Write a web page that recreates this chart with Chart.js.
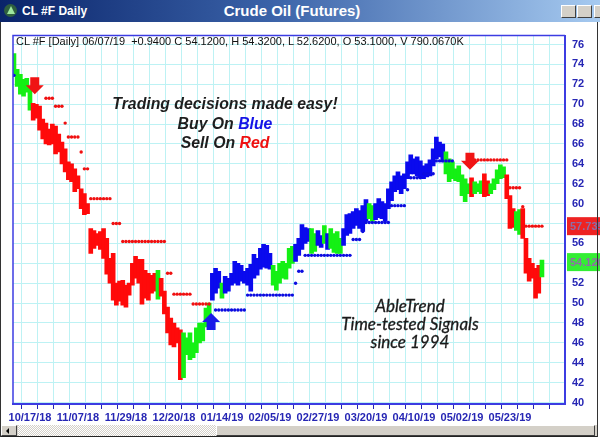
<!DOCTYPE html>
<html>
<head>
<meta charset="utf-8">
<title>CL #F Daily</title>
<script src="https://cdn.jsdelivr.net/npm/chart.js@4.4.1/dist/chart.umd.min.js"></script>
<style>
  body { margin: 0; width: 600px; height: 437px; overflow: hidden; background: #fff; position: relative; font-family: "Liberation Sans", Arial, sans-serif; }
  #titlebar { position: absolute; left: 0; top: 0; width: 600px; height: 22px; background: linear-gradient(to right, #0a246a 0%, #3a62a8 45%, #a6caf0 100%); color: #fff; }
  #titlebar .icon { position: absolute; left: 4px; top: 4px; width: 13px; height: 13px; border-radius: 50%; background: #2f5f3f; }
  #titlebar .icon:after { content: ""; position: absolute; left: 3px; top: 2px; border-left: 4px solid transparent; border-right: 4px solid transparent; border-bottom: 8px solid #9fe89f; }
  #titlebar .name { position: absolute; left: 22px; top: 4px; font-size: 12px; font-weight: bold; }
  #titlebar .main { position: absolute; left: 0; width: 584px; top: 2px; text-align: center; font-size: 15px; font-weight: bold; }
  .btn { position: absolute; top: 5px; width: 15px; height: 13px; background: #d4d0c8; border: 1px solid; border-color: #fff #404040 #404040 #fff; box-sizing: border-box; }
  #wrap { position: absolute; left: 0; top: 22px; width: 600px; height: 403px; }
  .hdr { position: absolute; left: 16px; top: 35px; font-size: 11px; color: #111; white-space: pre; }
  .note1 { position: absolute; left: 0; width: 450px; top: 94px; text-align: center; font: italic bold 15.8px "Liberation Sans", Arial, sans-serif; color: #1e1e1e; line-height: 19.5px; }
  .note2 { position: absolute; left: 300px; width: 220px; top: 297px; text-align: center; font: italic 17px Lato, "Open Sans", sans-serif; color: #1a1a1a; line-height: 18px; -webkit-text-stroke: 0.3px #1a1a1a; }
  #scroll { position: absolute; left: 0; top: 425px; width: 597px; height: 11px; background: #d4d0c8; border-bottom: 1px solid #222; }
  #scroll .arr { position: absolute; left: 1px; top: 0; width: 16px; height: 11px; background: #d4d0c8; border: 1px solid; border-color: #fff #404040 #404040 #fff; box-sizing: border-box; }
  #scroll .arr:after { content: ""; position: absolute; left: 4px; top: 2px; border-top: 3px solid transparent; border-bottom: 3px solid transparent; border-right: 3px solid #000; }
  #scroll .track { position: absolute; left: 18px; top: 0; width: 198px; height: 11px; background-image: repeating-conic-gradient(#fff 0 25%, #d4d0c8 0 50%); background-size: 2px 2px; }
  #scroll .thumb { position: absolute; left: 216px; top: 0; width: 379px; height: 11px; background: #d4d0c8; border: 1px solid; border-color: #fff #404040 #404040 #fff; box-sizing: border-box; }
  .edge { position: absolute; top: 22px; width: 1px; height: 415px; background: #333; }
</style>
</head>
<body>
<div id="titlebar">
  <div class="icon"></div>
  <div class="name">CL #F Daily</div>
  <div class="main">Crude Oil (Futures)</div>
  <div class="btn" style="left:561px"></div>
  <div class="btn" style="left:577px"></div>
  <div class="btn" style="left:594px"></div>
</div>
<div id="wrap"><canvas id="chart"></canvas></div>
<div class="hdr">CL #F [Daily] 06/07/19  +0.9400 C 54.1200, H 54.3200, L 52.6200, O 53.1000, V 790.0670K</div>
<div class="note1">Trading decisions made easy!<br>Buy On <span style="color:#1414e6">Blue</span><br>Sell On <span style="color:#ee1111">Red</span></div>
<div class="note2">AbleTrend<br>Time-tested Signals<br>since 1994</div>
<div id="scroll"><div class="arr"></div><div class="track"></div><div class="thumb"></div></div>
<div class="edge" style="left:0"></div>
<div class="edge" style="left:597px"></div>
<script>
  // Daily bars, one per trading day from 10/10/18 to 06/07/19
  const barHigh = [
    75.1, 73.5, 73.0, 72.5, 72.6, 71.8, 70.1, 70.0, 69.8, 68.5,
    68.1, 67.5, 68.0, 67.8, 67.0, 66.2, 65.5, 64.2, 64.0, 63.5,
    62.8, 61.5, 61.0, 60.0, 57.5, 57.3, 57.0, 57.2, 57.5, 56.5,
    54.5, 55.0, 52.0, 52.2, 52.3, 51.8, 52.0, 54.0, 54.7, 54.4,
    54.4, 53.3, 53.0, 52.8, 53.0, 53.3, 52.5, 51.2, 49.6, 48.5,
    48.0, 47.5, 47.3, 47.0, 46.5, 47.0, 46.0, 47.5, 48.0, 48.0,
    49.5, 50.0, 53.0, 53.5, 53.2, 52.0, 52.7, 52.5, 53.0, 54.2,
    54.0, 53.8, 53.2, 53.5, 53.9, 54.9, 54.5, 55.5, 55.9, 55.8,
    55.0, 53.8, 53.2, 54.0, 54.2, 54.0, 55.5, 55.7, 55.9, 56.5,
    57.9, 57.6, 57.5, 57.5, 57.0, 57.3, 56.8, 57.8, 57.0, 57.5,
    57.0, 57.2, 56.5, 57.5, 58.9, 59.0, 59.2, 59.5, 59.3, 59.8,
    60.4, 60.0, 59.8, 60.0, 60.5, 60.2, 60.0, 61.5, 62.2, 62.8,
    63.2, 62.8, 63.0, 64.2, 64.9, 64.5, 64.7, 64.3, 63.8, 64.0,
    64.4, 65.5, 66.7, 66.2, 66.0, 65.2, 64.5, 64.2, 63.5, 63.8,
    62.9, 62.5, 62.0, 62.6, 62.2, 62.0, 62.3, 63.0, 62.3, 62.0,
    62.5, 63.4, 63.9, 63.7, 62.9, 60.8, 59.5, 59.2, 59.4, 59.5,
    56.5, 54.5, 54.0, 53.5, 53.8, 54.32
  ];
  const barLow = [
    72.8, 71.8, 71.0, 70.8, 71.2, 69.4, 68.4, 68.6, 67.4, 66.5,
    66.0, 65.9, 66.0, 65.0, 65.2, 64.0, 63.2, 62.4, 62.2, 61.2,
    61.5, 59.5, 58.9, 59.0, 55.0, 55.5, 55.8, 55.4, 54.5, 52.9,
    52.0, 50.3, 49.8, 50.2, 49.8, 49.6, 50.8, 51.8, 52.5, 52.0,
    49.9, 50.5, 50.3, 51.0, 51.2, 50.4, 50.7, 48.9, 47.0, 45.8,
    45.6, 46.0, 42.3, 42.5, 44.8, 44.3, 44.5, 45.0, 46.0, 46.2,
    47.6, 48.0, 50.3, 51.0, 51.5, 50.5, 51.0, 51.2, 51.8, 52.0,
    51.8, 52.2, 52.0, 51.8, 51.2, 52.5, 52.8, 53.4, 53.6, 53.5,
    53.4, 51.8, 51.3, 52.0, 52.5, 52.4, 53.5, 54.0, 54.2, 54.8,
    55.4, 56.0, 56.2, 55.0, 55.2, 55.8, 55.6, 56.0, 55.4, 55.5,
    55.1, 55.0, 55.0, 55.8, 56.8, 57.0, 57.5, 57.8, 57.5, 57.2,
    58.2, 58.5, 58.2, 58.4, 58.6, 58.5, 58.2, 59.5, 60.3, 61.2,
    61.4, 61.0, 61.5, 62.5, 63.0, 63.0, 62.8, 62.6, 62.5, 62.7,
    62.8, 63.8, 64.5, 64.7, 64.2, 63.0, 62.2, 62.5, 62.3, 62.2,
    60.8, 60.2, 61.0, 60.7, 61.0, 61.2, 61.0, 60.7, 60.8, 61.0,
    61.4, 62.0, 62.5, 62.6, 60.5, 57.5, 57.6, 57.3, 56.9, 56.5,
    53.0, 52.2, 52.5, 50.5, 51.0, 52.62
  ];
  // b = buy (blue), r = sell (red), g = neutral (green)
  const barSignal = [
    'g','g','g','g','g','g','r','r','r','r',
    'r','r','r','r','r','r','r','r','r','r',
    'r','r','r','r','r','r','r','r','r','r',
    'r','r','r','r','r','r','r','r','r','r',
    'r','r','r','r','r','g','r','r','r','r',
    'r','r','r','g','g','g','g','g','g','g',
    'g','g','b','b','b','g','b','b','b','b',
    'b','b','b','b','b','b','b','b','b','b',
    'b','g','g','g','g','g','g','g','b','b',
    'b','b','b','g','g','b','b','g','b','g',
    'g','g','g','b','b','b','b','b','b','b',
    'b','g','g','b','b','b','b','b','b','b',
    'b','b','b','b','b','b','b','b','b','b',
    'b','b','b','b','b','g','g','g','g','g',
    'g','g','g','r','g','g','g','r','r','g',
    'g','g','g','g','r','r','r','g','g','r',
    'r','r','r','r','r','g'
  ];

  // stop levels: [first bar, last bar, price]
  const sellStops = [
    [10, 12, 70.6], [13, 15, 69.8], [16, 16, 68.1], [17, 20, 66.7], [21, 21, 65.2],
    [22, 23, 63.5], [24, 30, 60.5], [31, 33, 58.0], [34, 47, 56.2], [48, 49, 53.0],
    [50, 55, 50.9], [56, 61, 49.9], [144, 154, 64.4], [155, 158, 61.6], [159, 159, 59.7],
    [160, 165, 57.735]
  ];
  const buyStops = [
    [0, 0, 72.9], [63, 72, 49.3], [73, 87, 50.8], [88, 88, 52.0], [89, 90, 53.2],
    [91, 105, 54.8], [106, 108, 56.4], [109, 109, 57.2], [110, 117, 58.1], [118, 122, 59.8],
    [123, 123, 61.4], [124, 127, 62.6], [128, 131, 63.0], [132, 137, 64.3]
  ];

  // signal arrows: bar position, tip price, direction
  const arrowBar = [6.5, 61.6, 142.5];
  const arrowTip = [71.0, 49.0, 63.4];
  const arrowDir = ['down', 'up', 'down'];

  // right-hand value markers
  const markerValues = [57.735, 54.12];

  const xTickBars = [0, 5, 10, 15, 20, 25, 30, 35, 40, 45, 50, 55, 60, 65, 70, 75, 80, 85,
    90, 95, 100, 105, 110, 115, 120, 125, 130, 135, 140, 145, 150, 155, 160, 165, 170];
  const xLabelBars = [5, 20, 35, 50, 65, 80, 95, 110, 125, 140, 155];
  const xLabels = ['10/17/18', '11/07/18', '11/29/18', '12/20/18', '01/14/19', '02/05/19',
    '02/27/19', '03/20/19', '04/10/19', '05/02/19', '05/23/19'];
  const yTicks = [40, 42, 44, 46, 48, 50, 52, 54, 56, 58, 60, 62, 64, 66, 68, 70, 72, 74, 76];

  const signalColors = { r: '#ff0a0a', g: '#14f014', b: '#0a0aee' };
  const axisBlue = '#2626b4';
  const frameBlue = '#3c3ce2';

  function stopPoints(list) {
    const pts = [];
    list.forEach(s => {
      for (let i = s[0]; i <= s[1]; i++) pts.push({ x: i, y: s[2] });
    });
    return pts;
  }

  function drawArrow(ctx, cx, tipY, dir, color) {
    const s = dir === 'down' ? -1 : 1;
    ctx.save();
    ctx.fillStyle = color;
    ctx.beginPath();
    ctx.moveTo(cx, tipY);
    ctx.lineTo(cx + 9, tipY + s * 9);
    ctx.lineTo(cx + 4.5, tipY + s * 9);
    ctx.lineTo(cx + 4.5, tipY + s * 17);
    ctx.lineTo(cx - 4.5, tipY + s * 17);
    ctx.lineTo(cx - 4.5, tipY + s * 9);
    ctx.lineTo(cx - 9, tipY + s * 9);
    ctx.closePath();
    ctx.fill();
    ctx.restore();
  }

  const overlayPlugin = {
    id: 'overlay',
    afterDatasetsDraw(chart) {
      const { ctx, scales: { x, y } } = chart;
      arrowBar.forEach((b, k) => {
        const color = arrowDir[k] === 'up' ? '#1a1ae8' : '#f01414';
        drawArrow(ctx, x.getPixelForValue(b), y.getPixelForValue(arrowTip[k]), arrowDir[k], color);
      });
    },
    afterDraw(chart) {
      const { ctx, chartArea: a, scales: { y } } = chart;
      ctx.save();
      // plot frame, top and left
      ctx.strokeStyle = frameBlue;
      ctx.lineWidth = 1.5;
      ctx.beginPath();
      ctx.moveTo(a.left, a.bottom);
      ctx.lineTo(a.left, a.top);
      ctx.lineTo(a.right, a.top);
      ctx.stroke();
      // value markers on the price axis
      const boxColors = ['#ee2222', '#33ee33'];
      ctx.font = 'bold 11px "Liberation Sans", Arial, sans-serif';
      ctx.textBaseline = 'middle';
      markerValues.forEach((v, k) => {
        const py = y.getPixelForValue(v);
        ctx.fillStyle = boxColors[k];
        ctx.fillRect(a.right + 2, py - 9, 40, 18);
        ctx.fillStyle = '#8e6ea6';
        ctx.fillText(v.toFixed(3), a.right + 5, py + 1);
      });
      ctx.restore();
    }
  };

  new Chart(document.getElementById('chart'), {
    type: 'bar',
    data: {
      datasets: [
        {
          type: 'line',
          data: stopPoints(sellStops),
          showLine: false,
          pointRadius: 1.7,
          pointBorderWidth: 0,
          pointBackgroundColor: '#f01010'
        },
        {
          type: 'line',
          data: stopPoints(buyStops),
          showLine: false,
          pointRadius: 1.7,
          pointBorderWidth: 0,
          pointBackgroundColor: '#0c0ce0'
        },
        {
          type: 'bar',
          data: barHigh.map((h, i) => ({ x: i, y: [barLow[i], h] })),
          backgroundColor: barSignal.map(c => signalColors[c]),
          barThickness: 4,
          grouped: false
        }
      ]
    },
    options: {
      responsive: true,
      maintainAspectRatio: false,
      animation: false,
      layout: { padding: { left: 13, top: 10, right: 0, bottom: 0 } },
      plugins: { legend: { display: false }, tooltip: { enabled: false } },
      scales: {
        x: {
          type: 'linear',
          offset: false,
          min: -0.3,
          max: 172.2,
          afterBuildTicks: scale => { scale.ticks = xTickBars.map(v => ({ value: v })); },
          afterFit: scale => { scale.height = 21; },
          grid: { color: '#bdf2f4', tickColor: axisBlue, tickLength: 5, lineWidth: 1 },
          border: { color: frameBlue, width: 2 },
          ticks: {
            autoSkip: false,
            maxRotation: 0,
            padding: 2,
            color: axisBlue,
            font: { family: '"Liberation Sans", Arial, sans-serif', size: 11, weight: 'bold' },
            callback: v => {
              const k = xLabelBars.indexOf(v);
              return k >= 0 ? xLabels[k] : '';
            }
          }
        },
        y: {
          position: 'right',
          min: 39.85,
          max: 76.9,
          afterBuildTicks: scale => { scale.ticks = yTicks.map(v => ({ value: v })); },
          afterFit: scale => { scale.width = 35; },
          grid: { color: '#bdf2f4', drawTicks: false },
          border: { color: frameBlue, width: 2 },
          ticks: {
            padding: 7,
            color: axisBlue,
            font: { family: '"Liberation Sans", Arial, sans-serif', size: 11, weight: 'bold' }
          }
        }
      }
    },
    plugins: [overlayPlugin]
  });
</script>
</body>
</html>
